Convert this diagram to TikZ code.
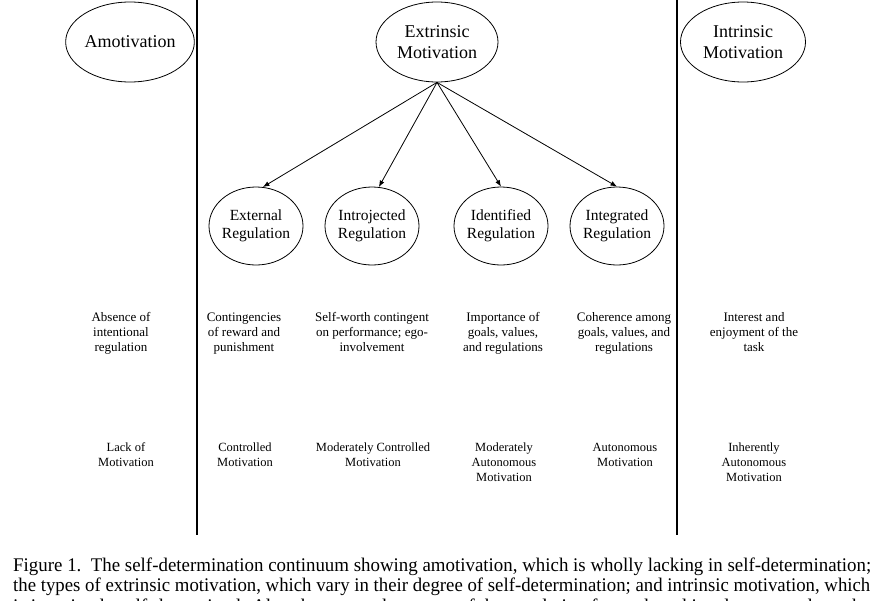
\documentclass[tikz,border=0pt]{standalone}
\usepackage{fontspec}
\setmainfont{Liberation Serif}
\usetikzlibrary{shapes.geometric,arrows.meta}
\begin{document}
\begin{tikzpicture}[x=1pt,y=-1pt,
  topoval/.style={ellipse,draw,line width=0.8pt,minimum width=#1,minimum height=80pt,
    inner sep=0pt,align=center,font=\fontsize{18}{21}\selectfont},
  regoval/.style={ellipse,draw,line width=0.8pt,minimum width=94pt,minimum height=78pt,
    inner xsep=-3pt,inner ysep=0pt,align=center,font=\fontsize{15.5}{18}\selectfont},
  rowa/.style={anchor=north,inner sep=0pt,align=center,font=\fontsize{13}{15}\selectfont},
  rowb/.style={anchor=north,inner sep=0pt,align=center,font=\fontsize{12.5}{15}\selectfont},
  capline/.style={anchor=base west,inner sep=0pt},
  divider/.style={line width=1.7pt},
  link/.style={line width=0.8pt,-{Latex[length=6.5pt,width=5pt]}}
]
\clip (0,0) rectangle (880,600);
\fill[white] (0,0) rectangle (880,600);

% dividers
\coordinate (l1) at (197,0);
\coordinate (l2) at (197,535);
\coordinate (r1) at (677,0);
\coordinate (r2) at (677,535);
\draw[divider] (l1) -- (l2);
\draw[divider] (r1) -- (r2);

% top ellipses
\node[topoval=124pt] (amot) at (130,42) {Amotivation};
\node[topoval=122pt] (ext) at (437,42) {Extrinsic\\Motivation};
\node[topoval=125pt] (intr) at (743,42) {Intrinsic\\Motivation};

% regulation ellipses
\node[regoval] (ereg) at (256,226) {External\\Regulation};
\node[regoval] (ireg) at (372,226) {Introjected\\Regulation};
\node[regoval] (dreg) at (501,226) {Identified\\Regulation};
\node[regoval] (greg) at (617,226) {Integrated\\Regulation};

% arrows
\draw[link] (ext.south) -- (ereg.80);
\draw[link] (ext.south) -- (ireg.80);
\draw[link] (ext.south) -- (dreg.north);
\draw[link] (ext.south) -- (greg.north);

% row 1
\node[rowa] (ra1) at (121,312) {Absence of\\intentional\\regulation};
\node[rowa] (ra2) at (244,312.5) {Contingencies\\of reward and\\punishment};
\node[rowa] (ra3) at (372,312) {Self-worth contingent\\on performance; ego-\\involvement};
\node[rowa] (ra4) at (503,312) {Importance of\\goals, values,\\and regulations};
\node[rowa] (ra5) at (624,312) {Coherence among\\goals, values, and\\regulations};
\node[rowa] (ra6) at (754,312) {Interest and\\enjoyment of the\\task};

% row 2
\node[rowb] (rb1) at (126,442.5) {Lack of\\Motivation};
\node[rowb] (rb2) at (245,442.5) {Controlled\\Motivation};
\node[rowb] (rb3) at (373,442.5) {Moderately Controlled\\Motivation};
\node[rowb] (rb4) at (504,442.5) {Moderately\\Autonomous\\Motivation};
\node[rowb] (rb5) at (625,443.5) {Autonomous\\Motivation};
\node[rowb] (rb6) at (754,442.5) {Inherently\\Autonomous\\Motivation};

% caption
\node[capline] (c1) at (13,571) {\resizebox{858pt}{13.6pt}{\fontsize{19}{20}\selectfont Figure 1.\ \ The self-determination continuum showing amotivation, which is wholly lacking in self-determination;}};
\node[capline] (c2) at (13,591) {\resizebox{857pt}{13.6pt}{\fontsize{19}{20}\selectfont the types of extrinsic motivation, which vary in their degree of self-determination; and intrinsic motivation, which}};
\node[capline] (c3) at (13,612) {\resizebox{857pt}{13.6pt}{\fontsize{19}{20}\selectfont is invariantly self-determined. Also shown are the nature of the regulation for each and its placement along the}};
\end{tikzpicture}
\end{document}
